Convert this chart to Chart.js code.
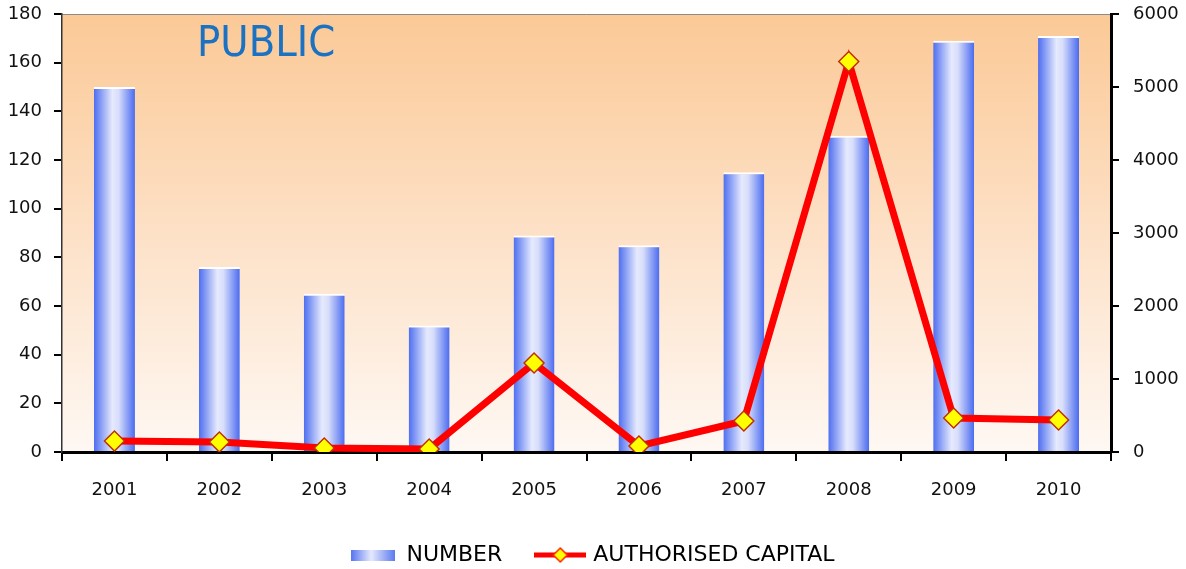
<!DOCTYPE html>
<html>
<head>
<meta charset="utf-8">
<script src="https://cdn.jsdelivr.net/npm/chart.js@4.4.1/dist/chart.umd.min.js"></script>
<style>
html,body{margin:0;padding:0;background:#fff;}
#wrap{width:1186px;height:569px;position:relative;}
</style>
</head>
<body>
<div id="wrap"><canvas id="c" width="1186" height="569"></canvas></div>
<script>
// data
var years=['2001','2002','2003','2004','2005','2006','2007','2008','2009','2010'];
var numbers=[150,76,65,52,89,85,115,130,169,171];
var capital=[150,137,55,41,1220,82,425,5350,466,438];
var leftMax=180,leftStep=20;
var rightMax=6000,rightStep=1000;
var titleText='PUBLIC';

var fam='"DejaVu Sans", "Liberation Sans", sans-serif';
var tickFont={family:fam,style:'condensed',size:18};

function barFill(c){
  var ch=c.chart,x=ch.scales.x;
  if(!x||!ch.chartArea)return '#6f8cf2';
  var cx=x.getPixelForValue(c.dataIndex),w=(ch.chartArea.right-ch.chartArea.left)/years.length*0.39;
  var g=ch.ctx.createLinearGradient(cx-w/2,0,cx+w/2,0);
  g.addColorStop(0,'#4d6ef0');g.addColorStop(0.45,'#e6eafd');g.addColorStop(0.6,'#d8defb');g.addColorStop(1,'#4a6bf0');
  return g;
}

// legend swatches
var barSw=document.createElement('canvas');barSw.width=44;barSw.height=11;
(function(){var x=barSw.getContext('2d'),g=x.createLinearGradient(0,0,44,0);
  g.addColorStop(0,'#5a78f0');g.addColorStop(0.45,'#e6eafd');g.addColorStop(1,'#5a78f0');x.fillStyle=g;x.fillRect(0,0,44,11);})();
var lineSw=document.createElement('canvas');lineSw.width=52;lineSw.height=18;
(function(){var x=lineSw.getContext('2d');x.strokeStyle='#ff0000';x.lineWidth=5;x.beginPath();x.moveTo(0,9);x.lineTo(52,9);x.stroke();
  x.beginPath();x.moveTo(26,2);x.lineTo(33,9);x.lineTo(26,16);x.lineTo(19,9);x.closePath();x.fillStyle='#ffff00';x.fill();x.strokeStyle='#ff2000';x.lineWidth=1.5;x.stroke();})();

var bgPlugin={
  id:'bg',
  afterLayout:function(ch){
    // push the legend row down to where the reference has it
    var lg=ch.legend;if(lg){lg.top+=7;lg.bottom+=7;}
  },
  beforeDraw:function(ch){
    var a=ch.chartArea,ctx=ch.ctx;
    ctx.save();
    ctx.fillStyle='#fff';ctx.fillRect(0,0,ch.width,ch.height);
    var g=ctx.createLinearGradient(0,a.top,0,a.bottom);
    g.addColorStop(0,'#fbc996');g.addColorStop(0.55,'#fde3cb');g.addColorStop(1,'#fef8f3');
    ctx.fillStyle=g;ctx.fillRect(a.left,a.top,a.right-a.left,a.bottom-a.top);
    ctx.strokeStyle='#8a8a8a';ctx.lineWidth=1;ctx.beginPath();ctx.moveTo(a.left,a.top+0.5);ctx.lineTo(a.right,a.top+0.5);ctx.stroke();
    ctx.fillStyle='#1b72c2';ctx.font='condensed 43px '+fam;ctx.textBaseline='alphabetic';
    ctx.fillText(titleText,197,56);
    ctx.restore();
  }
};

function noPad(s){s.paddingTop=0;s.paddingBottom=0;}

new Chart(document.getElementById('c'),{
  type:'bar',
  data:{labels:years,datasets:[
    {label:'NUMBER',data:numbers,yAxisID:'y',order:2,backgroundColor:barFill,borderColor:'#ffffff',
     borderWidth:{top:2,left:0,right:0,bottom:0},borderSkipped:'start',barPercentage:0.39,categoryPercentage:1},
    {label:'AUTHORISED CAPITAL',type:'line',data:capital,yAxisID:'y1',order:1,borderColor:'#ff0000',borderWidth:7,
     tension:0,pointStyle:'rectRot',pointRadius:10,pointBackgroundColor:'#ffff00',pointBorderColor:'#c03000',pointBorderWidth:1.5}
  ]},
  options:{
    responsive:false,animation:false,
    layout:{padding:{top:14,left:0,right:0,bottom:0}},
    plugins:{
      tooltip:{enabled:false},
      legend:{position:'bottom',labels:{usePointStyle:true,pointStyleWidth:44,padding:36,color:'#111',
        font:{family:fam,style:'condensed',size:22},
        generateLabels:function(){return[
          {text:'NUMBER',pointStyle:barSw,fillStyle:'#6f8cf2',strokeStyle:'rgba(0,0,0,0)',lineWidth:0,hidden:false,datasetIndex:0},
          {text:'AUTHORISED CAPITAL',pointStyle:lineSw,fillStyle:'#ff0000',strokeStyle:'rgba(0,0,0,0)',lineWidth:0,hidden:false,datasetIndex:1}
        ];}}}
    },
    scales:{
      x:{offset:true,grid:{display:true,offset:true,drawOnChartArea:false,tickLength:9,color:'#000',lineWidth:2},
         border:{display:true,color:'#000',width:3},
         ticks:{font:tickFont,color:'#111',padding:19,maxRotation:0},
         afterFit:function(s){s.height=49;s.paddingLeft=0;s.paddingRight=0;}},
      y:{position:'left',min:0,max:leftMax,
         ticks:{stepSize:leftStep,font:tickFont,color:'#111',padding:12},
         grid:{drawOnChartArea:false,tickLength:8,color:'#000',lineWidth:2},
         border:{display:true,color:'#333',width:1.5},
         afterFit:function(s){s.width=62;noPad(s);}},
      y1:{position:'right',min:0,max:rightMax,
         ticks:{stepSize:rightStep,font:tickFont,color:'#111',padding:14,callback:function(v){return String(v);}},
         grid:{drawOnChartArea:false,tickLength:8,color:'#000',lineWidth:2},
         border:{display:true,color:'#000',width:3},
         afterFit:function(s){s.width=75;noPad(s);}}
    }
  },
  plugins:[bgPlugin]
});
</script>
</body>
</html>
